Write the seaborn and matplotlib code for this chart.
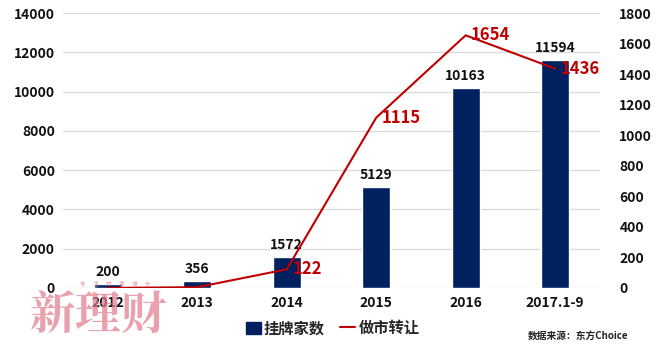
import numpy as np
import pandas as pd
import matplotlib
matplotlib.use("Agg")
import matplotlib.pyplot as plt
import seaborn as sns
from matplotlib.lines import Line2D
from matplotlib.patches import Patch

categories = ["2012", "2013", "2014", "2015", "2016", "2017.1-9"]
listed = [200, 356, 1572, 5129, 10163, 11594]
market_making = [0, 5, 122, 1115, 1654, 1436]
mm_labels_shown = [False, False, True, True, True, True]

sns.set_theme(style="white")
plt.rcParams['font.family'] = ['Noto Sans CJK SC', 'DejaVu Sans']

df = pd.DataFrame({"year": categories, "listed": listed, "mm": market_making})

fig = plt.figure(figsize=(6.65, 3.52), dpi=100)
ax = fig.add_axes([0.095, 0.182, 0.807, 0.781])

navy = "#002060"
red = "#C00000"

sns.barplot(data=df, x="year", y="listed", color=navy, width=0.31, ax=ax,
            saturation=1, zorder=2)
ax.set_ylim(0, 14000)
ax.set_yticks(np.arange(0, 14001, 2000))
ax.set_xlim(-0.5, len(categories) - 0.5)
ax.grid(axis="y", color="#D9D9D9", linewidth=0.9, zorder=0)
ax.set_axisbelow(True)
for s in ax.spines.values():
    s.set_visible(False)
ax.set_xlabel("")
ax.set_ylabel("")
ax.tick_params(axis="both", length=0, labelsize=10, pad=6)
for t in ax.get_xticklabels() + ax.get_yticklabels():
    t.set_fontweight("bold")
    t.set_color("#111111")

for i, v in enumerate(listed):
    ax.text(i, v + 250, f"{v}", ha="center", va="bottom", fontsize=10,
            fontweight="bold", color="#111111")

ax2 = ax.twinx()
sns.lineplot(x=np.arange(len(categories)), y=market_making, color=red,
             linewidth=1.5, ax=ax2, zorder=3)
ax2.set_ylim(0, 1800)
ax2.set_yticks(np.arange(0, 1801, 200))
ax2.set_xlim(-0.5, len(categories) - 0.5)
for s in ax2.spines.values():
    s.set_visible(False)
ax2.grid(False)
ax2.tick_params(axis="y", length=0, labelsize=10, pad=14)
for t in ax2.get_yticklabels():
    t.set_fontweight("bold")
    t.set_color("#111111")

for i, (v, show) in enumerate(zip(market_making, mm_labels_shown)):
    if show:
        ax2.text(i + 0.06, v, f"{v}", ha="left", va="center", fontsize=12,
                 fontweight="bold", color=red)

handles = [Patch(facecolor=navy, edgecolor=navy),
           Line2D([0], [0], color=red, linewidth=1.5)]
fig.legend(handles, ["挂牌家数", "做市转让"], loc="center",
           bbox_to_anchor=(0.5, 0.068), ncol=2, frameon=False,
           prop={"size": 11, "weight": "bold"}, handlelength=1.0,
           handleheight=0.8, columnspacing=1.0, handletextpad=0.2)

fig.text(0.945, 0.045, "数据来源：东方Choice", ha="right", va="center",
         fontsize=7, fontweight="bold", color="#222222")

# watermark
fig.text(0.045, 0.03, "新理财", ha="left", va="bottom", fontsize=33,
         fontweight="bold", color="#E07A8A", alpha=0.7,
         family=['Noto Serif CJK SC', 'Noto Sans CJK SC'])
fig.text(0.12, 0.195, "专      注      财      富      增      长", ha="left",
         va="center", fontsize=4, color="#E07A8A", alpha=0.8)

fig.savefig("out.png", dpi=100)
